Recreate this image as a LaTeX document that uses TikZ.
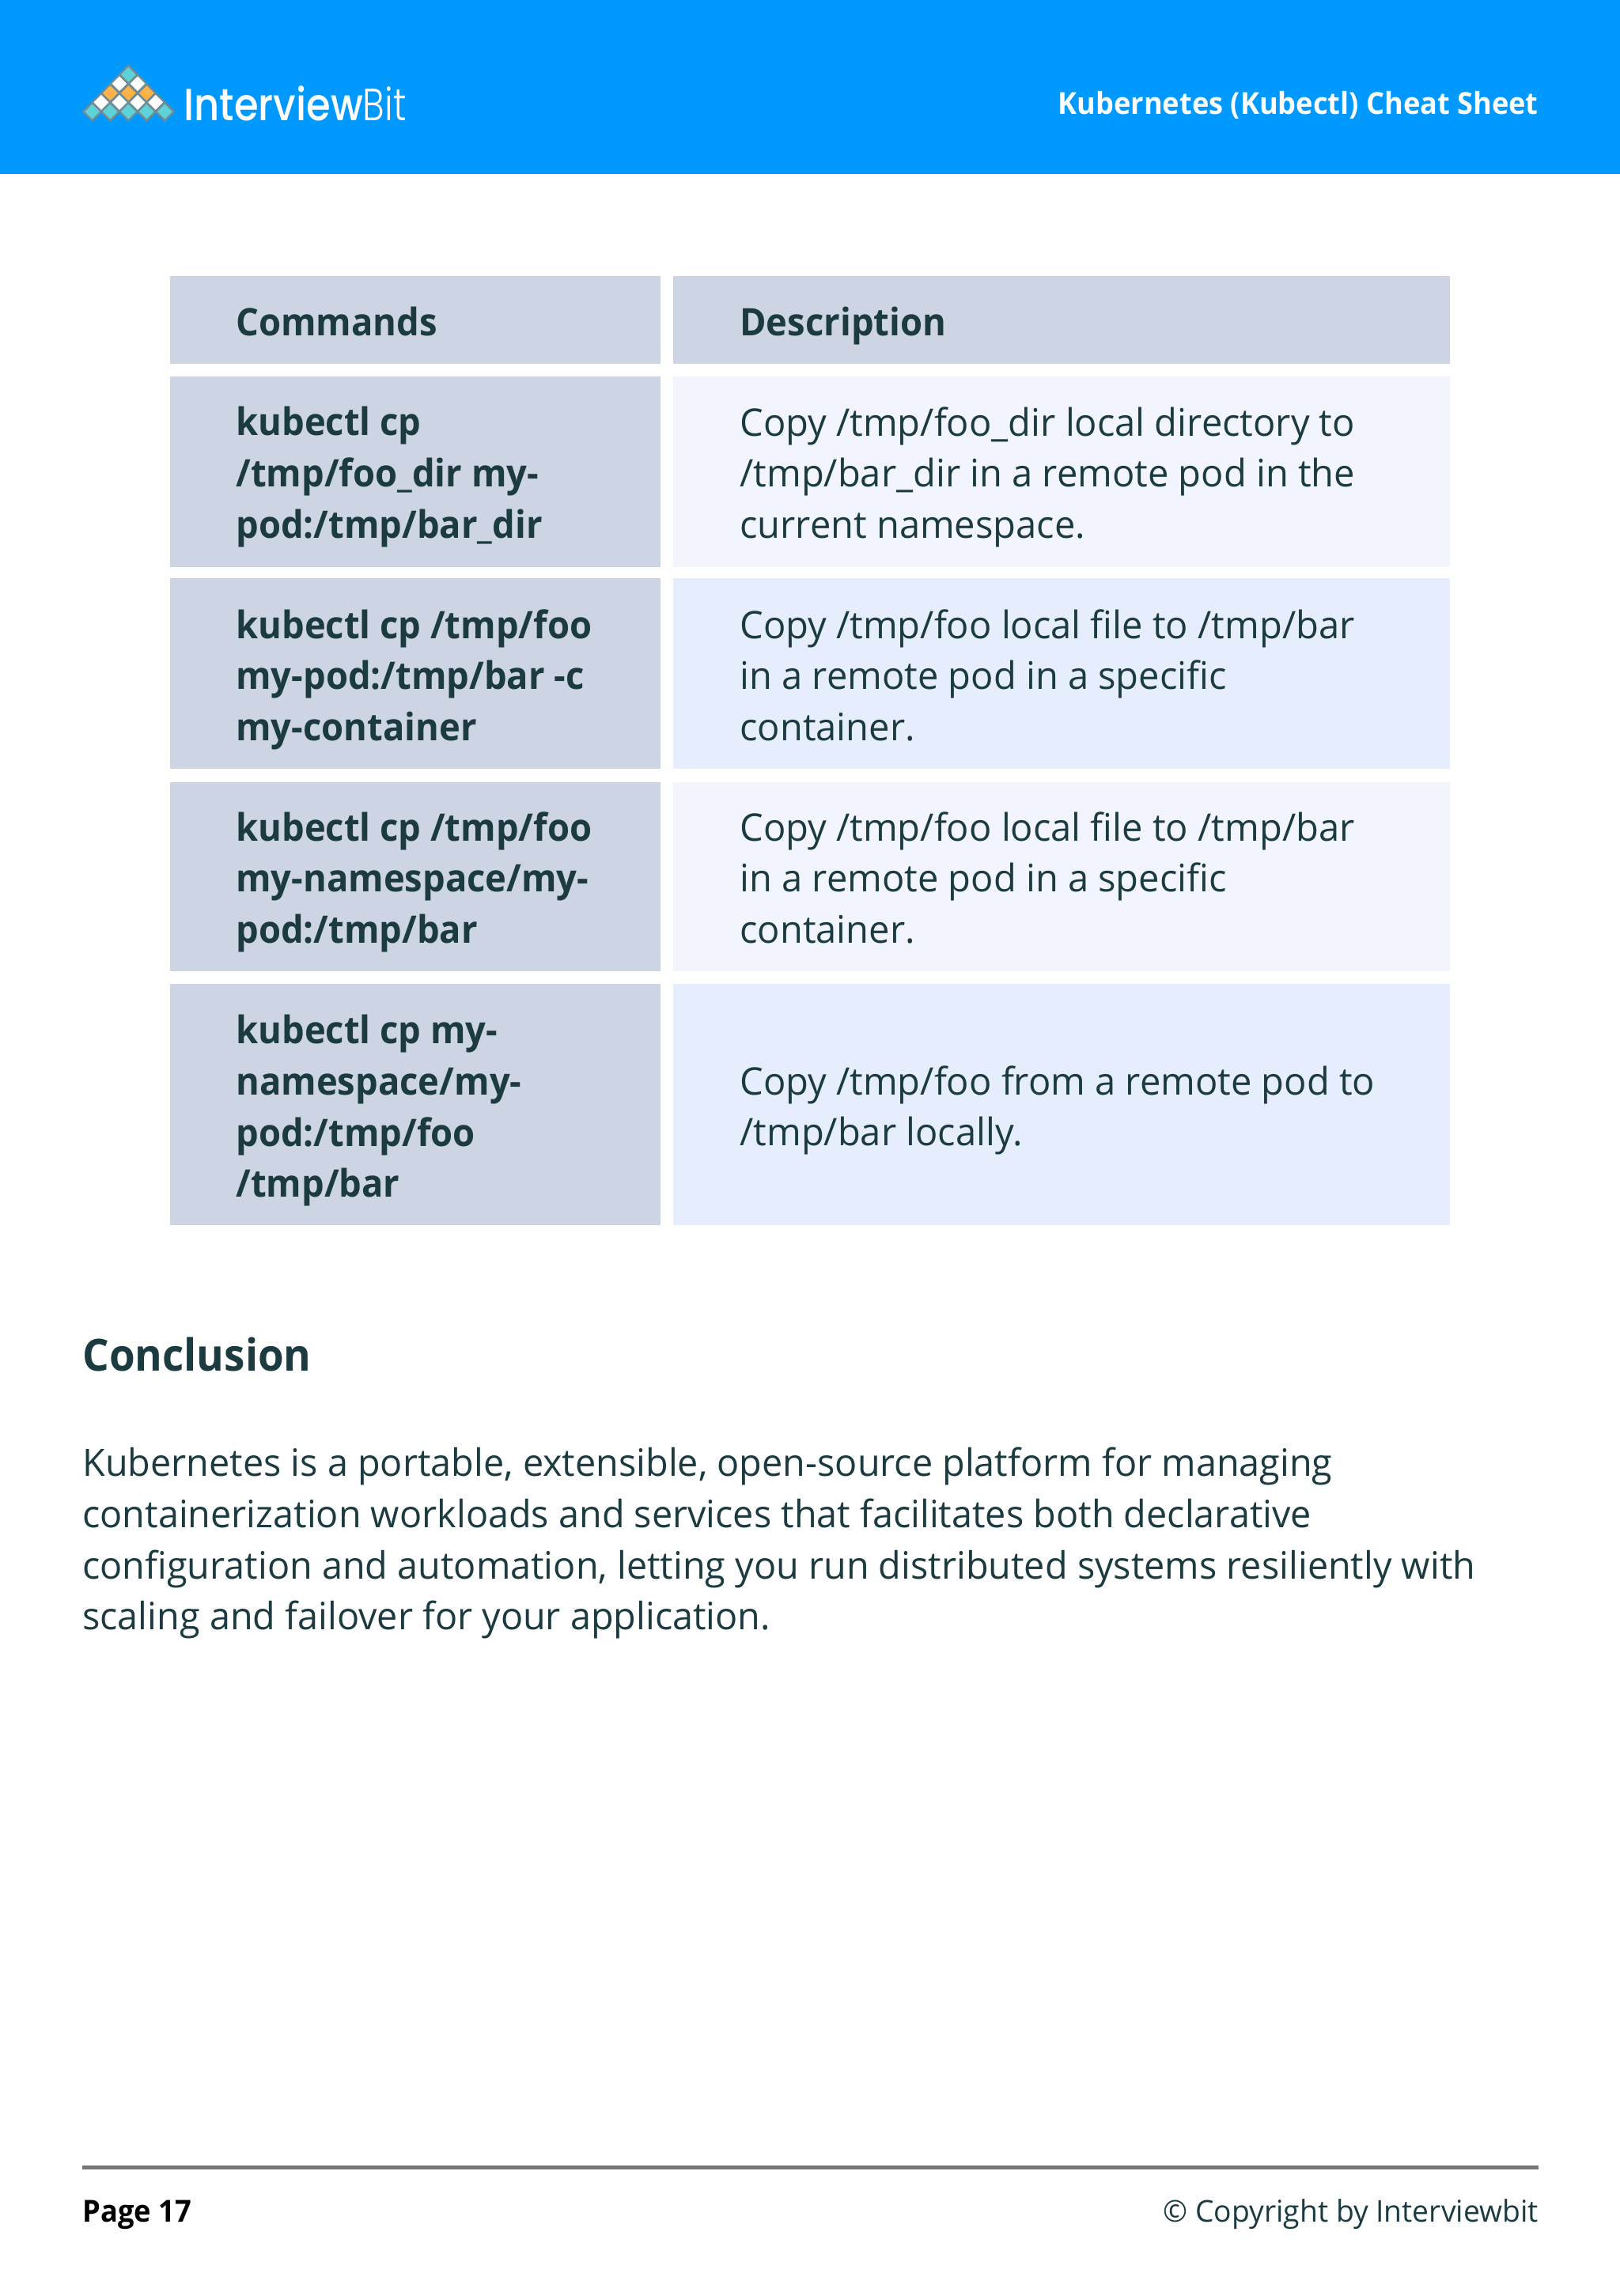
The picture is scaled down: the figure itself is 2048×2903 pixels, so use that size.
\documentclass[tikz,border=0pt]{standalone}
\usepackage{fontspec}
\setmainfont{Open Sans}[UprightFeatures={FakeStretch=0.98},BoldFeatures={FakeStretch=0.945}]
\newfontfamily\logofont{Poppins Medium}[FakeStretch=0.87]
\newfontfamily\logolight{Poppins Light}[FakeStretch=0.81]
\usetikzlibrary{calc,positioning}
\definecolor{ibblue}{HTML}{0099FF}
\definecolor{ibink}{HTML}{1B3B40}
\definecolor{cmdcell}{HTML}{CDD4E4}
\definecolor{lightcell}{HTML}{F2F5FE}
\definecolor{bluecell}{HTML}{E6EDFD}
\definecolor{logoteal}{HTML}{5ED2D6}
\definecolor{logoorange}{HTML}{FFB347}
\definecolor{logoedge}{HTML}{6F8C94}
\newcommand{\bodysize}{\fontsize{24}{32.3}\selectfont}
\tikzset{
  celltext/.style={anchor=north west,inner sep=0pt,align=left,text=ibink,font=\bodysize,execute at begin node=\strut},
  cmdtext/.style={celltext,font=\bodysize\bfseries},
  tile/.style={draw=logoedge,line width=1.2pt},
}
\begin{document}
\begin{tikzpicture}[x=.5pt,y=-.5pt]
    \useasboundingbox (0,0) rectangle (2048,2903);
    \pgfmathsetmacro{\lcol}{215}
    \pgfmathsetmacro{\lend}{835}
    \pgfmathsetmacro{\rcol}{851}
    \pgfmathsetmacro{\rend}{1833}
    \pgfmathsetmacro{\ltxt}{298}
    \pgfmathsetmacro{\rtxt}{935}
    \pgfmathsetmacro{\dd}{11.4}

    % header band
    \fill[ibblue] (0,0) rectangle (2048,220);
    \foreach \x/\y/\col in {116.7/141/logoteal,139.3/141/logoteal,162.3/141/logoteal,185.3/141/logoteal,208.3/141/logoteal,
                            128/129.3/white,151/129.3/white,174/129.3/white,196.7/129.3/white,
                            139.3/117.7/logoorange,162.3/117.7/logoorange,185.3/117.7/logoorange,
                            151/105.7/white,174/105.7/white,
                            162.3/94.3/logoteal}
      \draw[tile,fill=\col] (\x-\dd,\y) -- (\x,\y-\dd) -- (\x+\dd,\y) -- (\x,\y+\dd) -- cycle;
    \node[anchor=base west,inner sep=0pt,text=white,font=\fontsize{28.5}{30}\logofont] (logoword) at (232,152) {Interview\logolight Bit};
    \node[anchor=base east,inner sep=0pt,text=white,font=\fontsize{19.15}{24}\bfseries] (sheettitle) at (1945,144) {Kubernetes (Kubectl) Cheat Sheet};

    % table cells
    \foreach \ya/\yb/\col in {476/717/lightcell,731/972/bluecell,989/1228/lightcell,1244/1549/bluecell} {
      \fill[cmdcell] (\lcol,\ya) rectangle (\lend,\yb);
      \fill[\col] (\rcol,\ya) rectangle (\rend,\yb);
    }
    \fill[cmdcell] (\lcol,349) rectangle (\lend,460);
    \fill[cmdcell] (\rcol,349) rectangle (\rend,460);

    % table text
    \node[cmdtext] (headcmd) at (\ltxt,379) {Commands};
    \node[cmdtext] (headdesc) at (\rtxt,379) {Description};
    \node[cmdtext] (cmdone) at (\ltxt,514) {kubectl cp\\/tmp/foo\_dir my-\\pod:/tmp/bar\_dir};
    \node[celltext] (descone) at (\rtxt,514) {Copy /tmp/foo\_dir local directory to\\/tmp/bar\_dir in a remote pod in the\\current namespace.};
    \node[cmdtext] (cmdtwo) at (\ltxt,770) {kubectl cp /tmp/foo\\my-pod:/tmp/bar -c\\my-container};
    \node[celltext] (desctwo) at (\rtxt,770) {Copy /tmp/foo local file to /tmp/bar\\in a remote pod in a specific\\container.};
    \node[cmdtext] (cmdthree) at (\ltxt,1026) {kubectl cp /tmp/foo\\my-namespace/my-\\pod:/tmp/bar};
    \node[celltext] (descthree) at (\rtxt,1026) {Copy /tmp/foo local file to /tmp/bar\\in a remote pod in a specific\\container.};
    \node[cmdtext] (cmdfour) at (\ltxt,1283) {kubectl cp my-\\namespace/my-\\pod:/tmp/foo\\/tmp/bar};
    \node[celltext] (descfour) at (\rtxt,1347) {Copy /tmp/foo from a remote pod to\\/tmp/bar locally.};

    % conclusion
    \node[anchor=base west,inner sep=0pt,text=ibink,font=\fontsize{28}{34}\bfseries] (conchead) at (104,1733) {Conclusion};
    \node[celltext,font=\fontsize{23.85}{32.3}\selectfont] (concbody) at (104,1830) {Kubernetes is a portable, extensible, open-source platform for managing\\containerization workloads and services that facilitates both declarative\\configuration and automation, letting you run distributed systems resiliently with\\scaling and failover for your application.};

    % footer
    \fill[black!54] (104,2738) rectangle (1945,2743);
    \node[anchor=base west,inner sep=0pt,font=\fontsize{19.2}{24}\bfseries] (pageno) at (104,2809) {Page 17};
    \node[anchor=base east,inner sep=0pt,text=ibink,font=\fontsize{19}{24}\selectfont] (copyright) at (1945,2809) {© Copyright by Interviewbit};
\end{tikzpicture}
\end{document}
